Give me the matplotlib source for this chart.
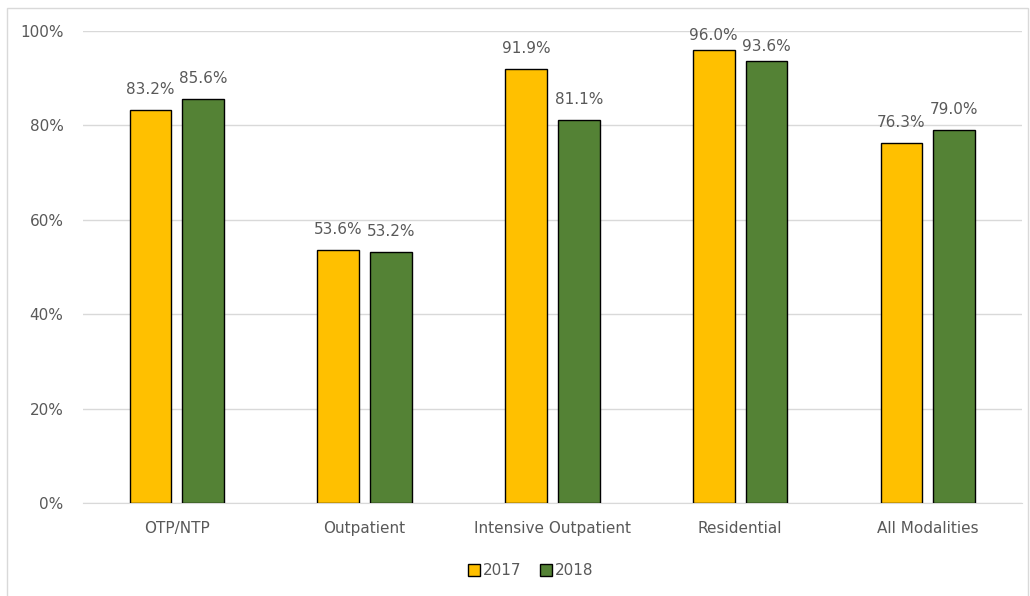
import numpy as np
import matplotlib.pyplot as plt
from matplotlib.patches import Rectangle

categories = ["OTP/NTP", "Outpatient", "Intensive Outpatient", "Residential", "All Modalities"]
vals_2017 = [83.2, 53.6, 91.9, 96.0, 76.3]
vals_2018 = [85.6, 53.2, 81.1, 93.6, 79.0]

plt.rcParams["font.family"] = ["DejaVu Sans"]
text_col = "#595959"
fs = 11

fig = plt.figure(figsize=(10.3, 5.96), dpi=100)
ax = fig.add_axes([0.0806, 0.156, 0.9114, 0.792])

# chart border
fig.patches.append(Rectangle((7 / 1030, -0.05), 1021 / 1030, 1.05 - 8 / 596,
                             transform=fig.transFigure, fill=False,
                             edgecolor="#d9d9d9", linewidth=1))

x = np.arange(len(categories))
w = 0.223
off = (w + 0.058) / 2
b1 = ax.bar(x - off, vals_2017, w, color="#FFC000", edgecolor="black", linewidth=1, label="2017", zorder=3)
b2 = ax.bar(x + off, vals_2018, w, color="#548235", edgecolor="black", linewidth=1, label="2018", zorder=3)

# value labels, squeezed down near the top of the axis
for bars, vals in ((b1, vals_2017), (b2, vals_2018)):
    for bar, v in zip(bars, vals):
        y = v + 4.4
        if y > 97:
            y = v + 3.1
        ax.text(bar.get_x() + bar.get_width() / 2, y, f"{v:.1f}%",
                ha="center", va="center", fontsize=fs, color=text_col, zorder=4)

ax.set_xlim(-0.5, 4.5)
ax.set_ylim(0, 100)
ax.set_yticks(range(0, 101, 20))
ax.set_yticklabels([f"{t}%" for t in range(0, 101, 20)])
ax.set_xticks(x)
ax.set_xticklabels(categories)
ax.tick_params(axis="both", length=0, labelsize=fs, labelcolor=text_col)
ax.tick_params(axis="y", pad=14)
ax.tick_params(axis="x", pad=13)
ax.yaxis.grid(True, color="#d9d9d9", linewidth=1, zorder=0)
for s in ["top", "right", "left"]:
    ax.spines[s].set_visible(False)
ax.spines["bottom"].set_color("#d9d9d9")

leg = fig.legend(loc="center", bbox_to_anchor=(0.515, 0.042), ncol=2, frameon=False,
                 fontsize=fs, handlelength=0.8, handleheight=0.8, handletextpad=0.2,
                 columnspacing=1.2)
for t in leg.get_texts():
    t.set_color(text_col)

fig.savefig("out.png", dpi=100)
